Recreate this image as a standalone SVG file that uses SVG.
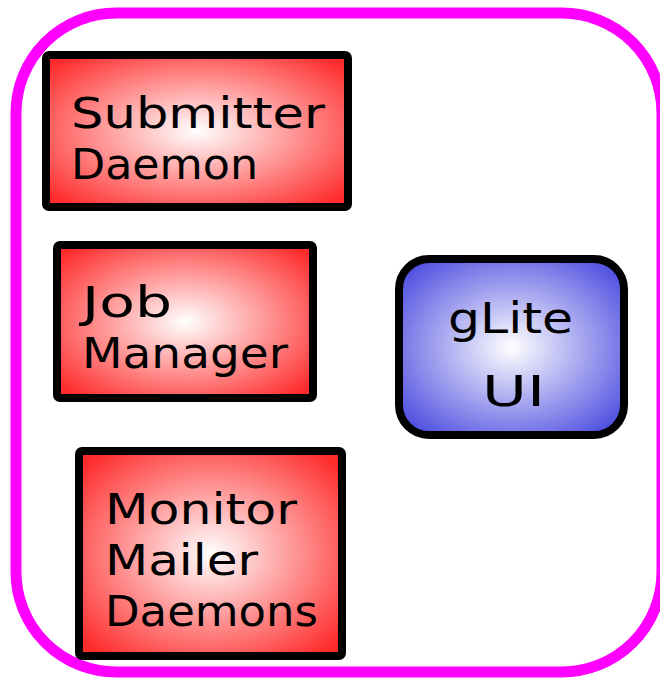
<svg xmlns="http://www.w3.org/2000/svg" width="660" height="680" viewBox="0 0 660 680">
<defs>
<radialGradient id="red" cx="50%" cy="50%" r="65%">
<stop offset="0" stop-color="#ffffff"/>
<stop offset="1" stop-color="#ff2a2a"/>
</radialGradient>
<radialGradient id="blue" cx="50%" cy="50%" r="65%">
<stop offset="0" stop-color="#ffffff"/>
<stop offset="1" stop-color="#4a4ae0"/>
</radialGradient>
<style>
.box{stroke:#000;stroke-width:8;}
.t{font-family:"DejaVu Sans",sans-serif;font-size:43px;fill:#000;}
</style>
</defs>
<rect width="660" height="680" fill="#fff"/>
<rect x="16" y="13" width="646" height="659" rx="100" fill="none" stroke="#ff00ff" stroke-width="11"/>
<g id="submitter">
<rect class="box" x="46" y="55" width="302" height="152" rx="3" fill="url(#red)"/>
<text class="t" x="71" y="128" textLength="254" lengthAdjust="spacingAndGlyphs">Submitter</text>
<text class="t" x="71" y="179" textLength="187" lengthAdjust="spacingAndGlyphs">Daemon</text>
</g>
<g id="jobmanager">
<rect class="box" x="57" y="245" width="256" height="153" rx="3" fill="url(#red)"/>
<text class="t" x="82" y="317" textLength="90" lengthAdjust="spacingAndGlyphs">Job</text>
<text class="t" x="82" y="368" textLength="206" lengthAdjust="spacingAndGlyphs">Manager</text>
</g>
<g id="monitor">
<rect class="box" x="79" y="451" width="263" height="205" rx="3" fill="url(#red)"/>
<text class="t" x="105" y="524" textLength="192" lengthAdjust="spacingAndGlyphs">Monitor</text>
<text class="t" x="105" y="575" textLength="153" lengthAdjust="spacingAndGlyphs">Mailer</text>
<text class="t" x="105" y="626" textLength="213" lengthAdjust="spacingAndGlyphs">Daemons</text>
</g>
<g id="glite">
<rect class="box" x="399" y="259" width="225" height="176" rx="30" fill="url(#blue)"/>
<text class="t" x="448" y="333" textLength="125" lengthAdjust="spacingAndGlyphs">gLite</text>
<text class="t" x="482" y="406" textLength="63" lengthAdjust="spacingAndGlyphs">UI</text>
</g>
<g id="connectors"/>
</svg>
